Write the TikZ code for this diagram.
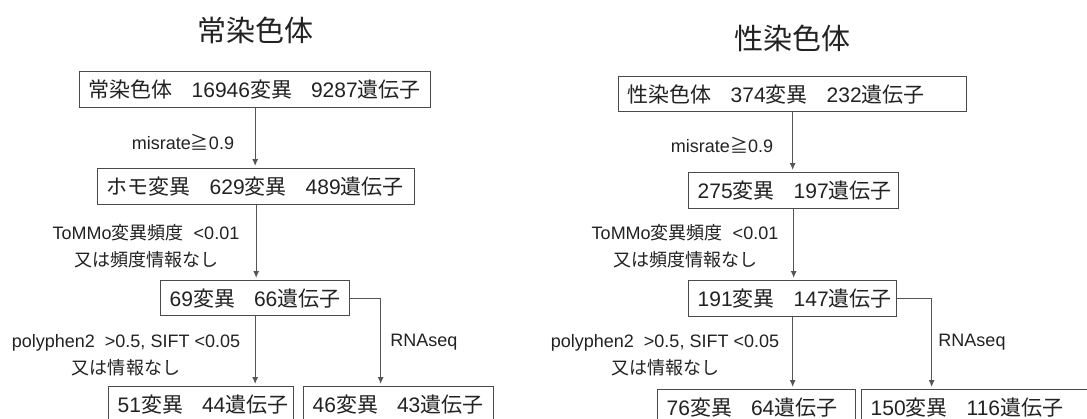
\documentclass[tikz,border=0pt]{standalone}
\usepackage{fontspec}
\setmainfont{Liberation Sans}
\newfontfamily\jpf{Noto Sans CJK JP}
\usetikzlibrary{arrows.meta}
\definecolor{linec}{HTML}{555555}
\definecolor{boxc}{HTML}{4A4A4A}
\definecolor{txt}{HTML}{222222}
\newcommand{\boxtxt}[2]{\makebox[#1][l]{#2}}
\newcommand{\gp}{\hspace{19pt}}
\begin{document}
\begin{tikzpicture}[x=1pt,y=-1pt,
 box/.style={draw=boxc, line width=1.3pt, anchor=north west, inner xsep=9pt, inner ysep=0pt, text=txt, font=\fontsize{21}{25}\selectfont},
 lbl/.style={text=txt, font=\fontsize{18}{27}\selectfont, align=center, inner sep=0pt},
 ttl/.style={text=txt, font=\jpf\fontsize{29}{34}\selectfont, inner sep=0pt},
 arr/.style={draw=linec, line width=1.1pt, -{Latex[length=7pt,width=6pt]}, shorten >=2pt}]
\useasboundingbox (0,0) rectangle (1087,418);
\clip (0,0) rectangle (1087,418);
\fill[white] (0,0) rectangle (1087,418);

% left: autosomes
\node[ttl] (Lt) at (255,30) {常染色体};
\node[box, minimum height=36pt] (L1) at (79,71) {\boxtxt{333pt}{{\jpf 常染色体}\gp 16946{\jpf 変異}\gp 9287{\jpf 遺伝子}}};
\node[box, minimum height=36pt] (L2) at (97,168) {\boxtxt{299pt}{{\jpf ホモ変異}\gp 629{\jpf 変異}\gp 489{\jpf 遺伝子}}};
\node[box, minimum height=35pt] (L3) at (160,280) {\boxtxt{171pt}{69{\jpf 変異}\gp 66{\jpf 遺伝子}}};
\node[box, minimum height=36pt] (L4) at (108,386) {\boxtxt{167pt}{51{\jpf 変異}\gp 44{\jpf 遺伝子}}};
\node[box, minimum height=36pt] (L5) at (303,386) {\boxtxt{172pt}{46{\jpf 変異}\gp 43{\jpf 遺伝子}}};

\node[lbl] (Lm) at (183,142) {misrate{\jpf ≧}0.9};
\node[lbl] (Lf) at (146,246) {ToMMo{\jpf 変異頻度}\ \ <0.01\\{\jpf 又は頻度情報なし}};
\node[lbl] (Lp) at (126,355) {polyphen2\ \ >0.5, SIFT <0.05\\{\jpf 又は情報なし}};
\node[lbl] (Lr) at (424,342) {RNAseq};

\draw[arr] (L1.south) -- (L1.south |- L2.north);
\draw[arr] (L2.south) -- (L2.south |- L3.north);
\draw[arr] (L3.south) -- (L3.south |- L4.north);
\draw[arr] (L3.east) -| ([xshift=-18pt]L5.north);

% right: sex chromosomes
\node[ttl] (Rt) at (792,38) {性染色体};
\node[box, minimum height=35pt] (R1) at (618,76) {\boxtxt{330pt}{{\jpf 性染色体}\gp 374{\jpf 変異}\gp 232{\jpf 遺伝子}}};
\node[box, minimum height=36pt] (R2) at (688,172) {\boxtxt{192pt}{275{\jpf 変異}\gp 197{\jpf 遺伝子}}};
\node[box, minimum height=36pt] (R3) at (688,280) {\boxtxt{190pt}{191{\jpf 変異}\gp 147{\jpf 遺伝子}}};
\node[box, minimum height=36pt] (R4) at (657,389) {\boxtxt{180pt}{76{\jpf 変異}\gp 64{\jpf 遺伝子}}};
\node[box, minimum height=36pt] (R5) at (861,389) {\boxtxt{210pt}{150{\jpf 変異}\gp 116{\jpf 遺伝子}}};

\node[lbl] (Rm) at (722,145) {misrate{\jpf ≧}0.9};
\node[lbl] (Rf) at (685,246) {ToMMo{\jpf 変異頻度}\ \ <0.01\\{\jpf 又は頻度情報なし}};
\node[lbl] (Rp) at (665,355) {polyphen2\ \ >0.5, SIFT <0.05\\{\jpf 又は情報なし}};
\node[lbl] (Rr) at (972,342) {RNAseq};

\draw[arr] (R1.south) -- (R1.south |- R2.north);
\draw[arr] (R2.south) -- (R2.south |- R3.north);
\draw[arr] (R3.south) -- (R3.south |- R4.north);
\draw[arr] (R3.east) -| ([xshift=-44pt]R5.north);
\end{tikzpicture}
\end{document}
